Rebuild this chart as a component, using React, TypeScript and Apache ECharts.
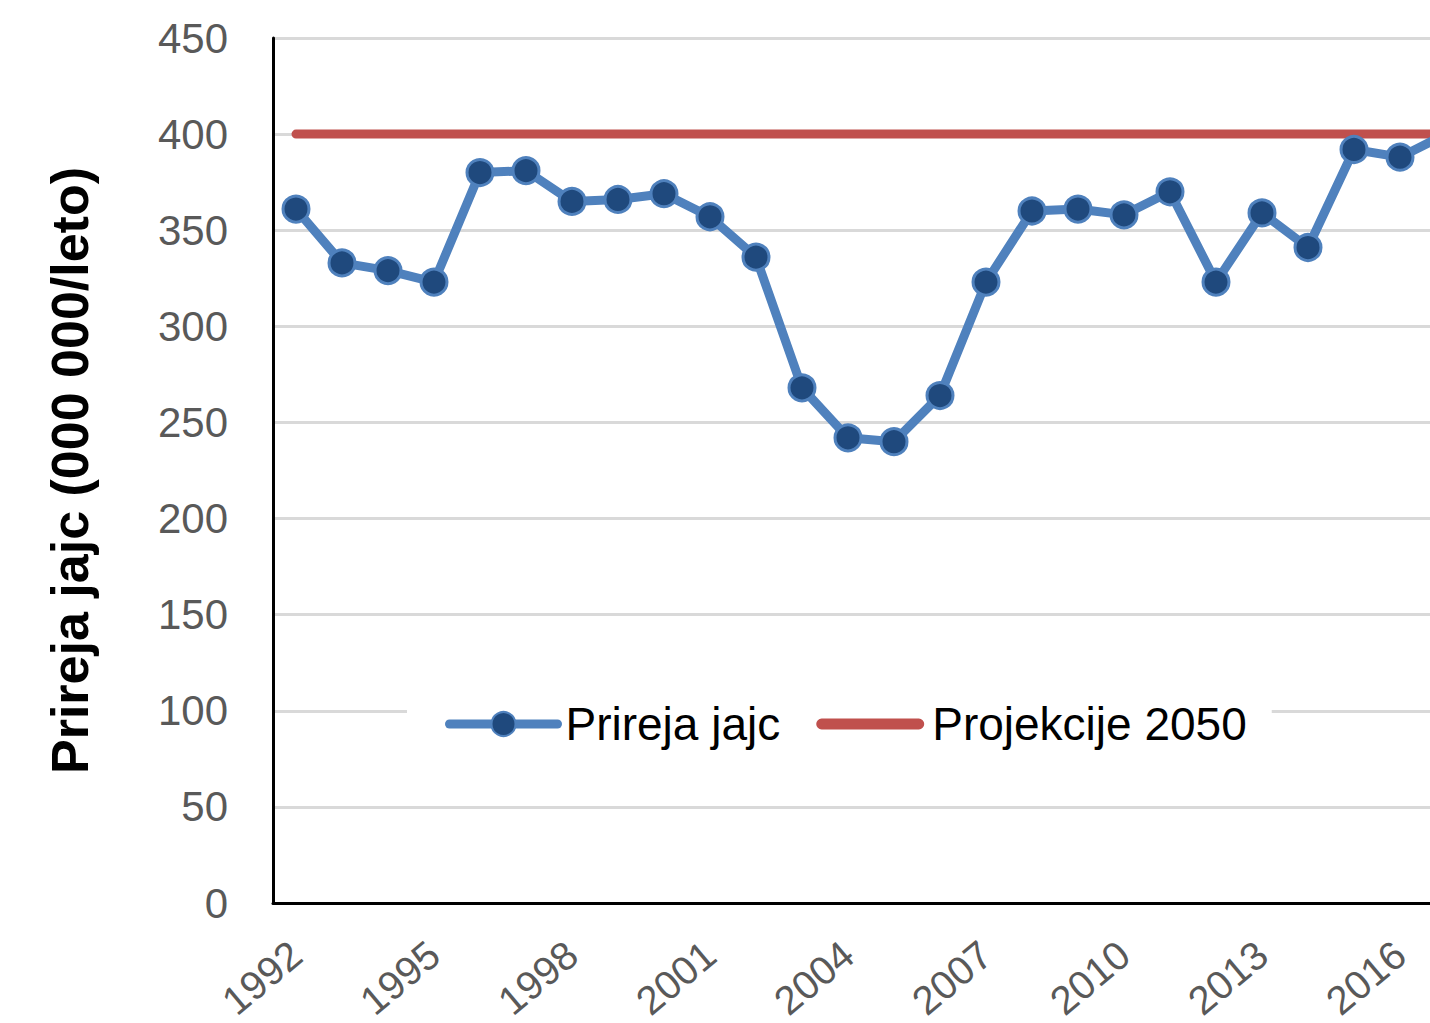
import React, { useEffect, useRef } from "react";
import * as echarts from "echarts";

const years = ["1992","1993","1994","1995","1996","1997","1998","1999","2000","2001","2002","2003","2004","2005","2006","2007","2008","2009","2010","2011","2012","2013","2014","2015","2016","2017"];
const prireja = [361, 333, 329, 323, 380, 381, 365, 366, 369, 357, 336, 268, 242, 240, 264, 323, 360, 361, 358, 370, 323, 359, 341, 392, 388, 400];
const projekcije = years.map(() => 400);
const yTicks = { min: 0, max: 450, interval: 50 };

export default function App() {
  const ref = useRef<HTMLDivElement>(null);
  useEffect(() => {
    if (!ref.current) return;
    const chart = echarts.init(ref.current, null, { renderer: "svg" });
    const font = "Liberation Sans";
    chart.setOption({
      animation: false,
      backgroundColor: "#ffffff",
      grid: { left: 273, top: 38, bottom: 120, right: 0, containLabel: false, outerBoundsMode: "none" },
      legend: {
        show: true,
        left: 407,
        top: 698,
        backgroundColor: "#ffffff",
        padding: [3, 25, 3, 38],
        itemGap: 36,
        itemWidth: 108,
        itemHeight: 30,
        lineStyle: { width: 9, cap: "round" },
        textStyle: { fontFamily: font, fontSize: 46, color: "#000000", padding: [0, 0, 0, 3] },
        data: [
          { name: "Prireja jajc" },
          {
            name: "Projekcije 2050",
            icon: "path://M1,0 L19,0 A1,1 0 0 1 19,2 L1,2 A1,1 0 0 1 1,0 Z",
            itemStyle: { color: "#C0504D", borderWidth: 0 },
          },
        ],
      },
      xAxis: {
        type: "category",
        data: years,
        boundaryGap: true,
        axisLine: { show: true, lineStyle: { color: "#000000", width: 3 } },
        axisTick: { show: false },
        axisLabel: {
          interval: 2,
          rotate: 40,
          margin: 46,
          fontFamily: font,
          fontSize: 40,
          color: "#595959",
        },
        splitLine: { show: false },
      },
      yAxis: {
        type: "value",
        min: yTicks.min,
        max: yTicks.max,
        interval: yTicks.interval,
        name: "Prireja jajc (000 000/leto)",
        nameLocation: "middle",
        nameGap: 177,
        nameRotate: 90,
        nameTextStyle: { fontFamily: font, fontSize: 52, fontWeight: "bold", color: "#000000" },
        axisLine: { show: true, lineStyle: { color: "#000000", width: 3 } },
        axisTick: { show: false },
        axisLabel: { fontFamily: font, fontSize: 42, color: "#595959", margin: 45 },
        splitLine: { show: true, lineStyle: { color: "#D9D9D9", width: 3 } },
      },
      series: [
        {
          name: "Prireja jajc",
          type: "line",
          data: prireja,
          symbol: "circle",
          symbolSize: 26,
          z: 3,
          lineStyle: { color: "#4F81BD", width: 9, cap: "round", join: "round" },
          itemStyle: { color: "#1F497D", borderColor: "#4F81BD", borderWidth: 3 },
        },
        {
          name: "Projekcije 2050",
          type: "line",
          data: projekcije,
          symbol: "none",
          z: 2,
          lineStyle: { color: "#C0504D", width: 9, cap: "round" },
          itemStyle: { color: "#C0504D" },
        },
      ],
    });
    return () => chart.dispose();
  }, []);
  return (
    <div style={{ position: "fixed", left: 0, top: 0, width: 1430, height: 1023, overflow: "hidden", background: "#fff" }}>
      <div ref={ref} style={{ width: 1469, height: 1023 }} />
    </div>
  );
}
